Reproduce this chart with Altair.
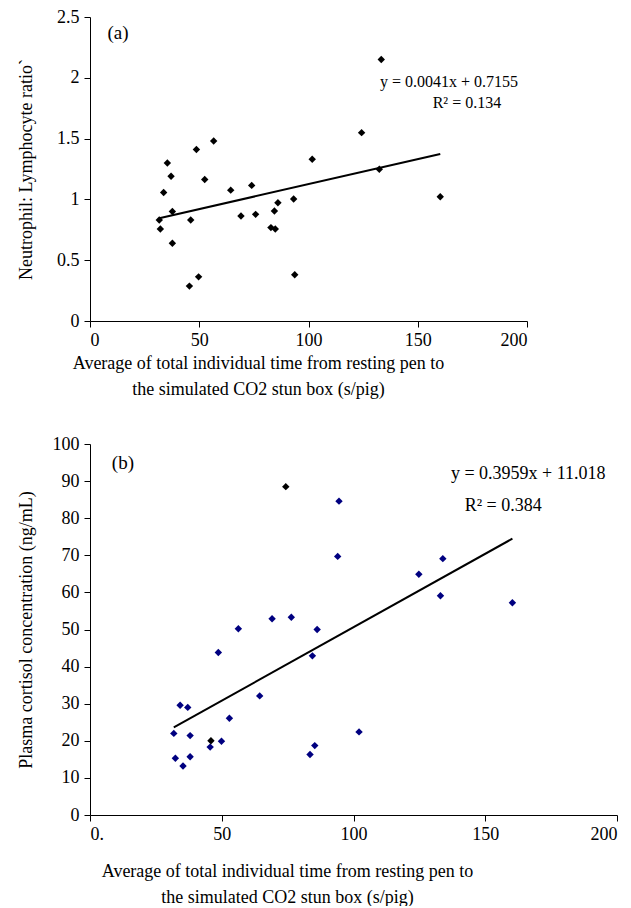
import altair as alt
import pandas as pd

FONT = "Liberation Serif"

# ---------------- Panel (a) ----------------
a_x = [31.7, 32.2, 33.7, 35.4, 37.1, 37.7, 37.7, 46.1, 45.5, 48.7,
       49.7, 52.5, 56.6, 64.4, 69.1, 74.0, 75.8, 82.8, 84.8, 84.4,
       86.0, 93.2, 93.7, 101.7, 124.3, 132.4, 133.3, 160.3]
a_y = [0.83, 0.757, 1.057, 1.30, 1.19, 0.90, 0.64, 0.83, 0.287, 1.41,
       0.363, 1.164, 1.48, 1.076, 0.863, 1.115, 0.877, 0.768, 0.757, 0.904,
       0.973, 1.003, 0.38, 1.33, 1.549, 1.248, 2.15, 1.022]
a_slope, a_intercept = 0.0041, 0.7155
a_ticks = [0, 0.5, 1, 1.5, 2, 2.5]
a_ann_text = ["(a)", "y = 0.0041x + 0.7155", "R²  = 0.134"]
a_ann_x = [12.8, 164.3, 172.5]
a_ann_y = [2.37, 1.967, 1.795]
a_ann_size = [19, 16, 16]

# ---------------- Panel (b) ----------------
b_x = [31.8, 32.4, 34.2, 35.3, 37.1, 38.0, 38.0, 45.6, 45.9, 48.7,
       49.9, 52.9, 56.3, 64.4, 69.1, 74.3, 76.4, 86.2, 84.4, 83.5,
       85.3, 94.5, 94.0, 102.1, 124.8, 133.0, 133.9, 160.3]
b_y = [22.0, 15.3, 29.6, 13.2, 29.0, 21.4, 15.7, 18.3, 20.0, 43.8,
       19.9, 26.1, 50.2, 32.1, 52.9, 88.5, 53.3, 50.0, 42.9, 16.3,
       18.7, 84.6, 69.7, 22.4, 64.9, 59.1, 69.1, 57.2]
b_color = ["#000080"] * 28
b_color[8] = "#000000"
b_color[15] = "#000000"
b_slope, b_intercept = 0.3959, 11.018
b_ticks = [0, 10, 20, 30, 40, 50, 60, 70, 80, 90, 100]
b_ann_text = ["(b)", "y = 0.3959x + 11.018", "R² = 0.384"]
b_ann_x = [12.5, 166.3, 156.8]
b_ann_y = [94.9, 91.9, 83.3]
b_ann_size = [19, 18, 18]

x_ticks = [0, 50, 100, 150, 200]
x_title = ["Average of total individual time from resting pen to",
           "the simulated CO2 stun box (s/pig)"]


def panel(xs, ys, colors, slope, intercept, yticks, ydom, ytitle,
          ann_text, ann_x, ann_y, ann_size, width, height, xlabel_expr,
          title_x, x_title_pad):
    pts = pd.DataFrame({"x": xs, "y": ys, "c": colors})
    lx = [min(xs), max(xs)]
    line = pd.DataFrame({"x": lx, "y": [slope * v + intercept for v in lx]})
    ann = pd.DataFrame({"x": ann_x, "y": ann_y, "t": ann_text, "s": ann_size})

    xsc = alt.Scale(domain=[0, 200], nice=False, zero=True)
    ysc = alt.Scale(domain=ydom, nice=False)
    xax = alt.Axis(values=x_ticks, labelExpr=xlabel_expr, title=x_title,
                   titleX=title_x, titleAlign="center", titleAnchor="middle",
                   titlePadding=x_title_pad, titleLineHeight=26,
                   labelPadding=4, labelOverlap=False, tickCount=5)
    yax = alt.Axis(values=yticks, labelExpr="'' + datum.value", title=ytitle,
                   minExtent=38, maxExtent=38, titlePadding=17,
                   labelPadding=5, labelOverlap=False,
                   tickCount=len(yticks))
    X = alt.X("x:Q", scale=xsc, axis=xax)
    Y = alt.Y("y:Q", scale=ysc, axis=yax)

    p = alt.Chart(pts).mark_point(shape="diamond", filled=True, size=55,
                                  opacity=1).encode(
        x=X, y=Y, color=alt.Color("c:N", scale=None),
    )
    l = alt.Chart(line).mark_line(color="black", strokeWidth=2).encode(
        x=X, y=Y)
    t = alt.Chart(ann).mark_text(font=FONT, color="black").encode(
        x=X, y=Y, text="t:N", size=alt.Size("s:Q", scale=None))
    return alt.layer(l, p, t).properties(width=width, height=height)


top = panel(a_x, a_y, ["#000000"] * 28, a_slope, a_intercept, a_ticks,
            [0, 2.5], "Neutrophil: Lymphocyte ratio`",
            a_ann_text, a_ann_x, a_ann_y, a_ann_size, 437, 304,
            "'' + datum.value", 168, 5)
bottom = panel(b_x, b_y, b_color, b_slope, b_intercept, b_ticks,
               [0, 100], "Plasma cortisol concentration (ng/mL)",
               b_ann_text, b_ann_x, b_ann_y, b_ann_size, 527, 371,
               "datum.value == 0 ? '0.' : '' + datum.value", 197, 19)

chart = alt.vconcat(top, bottom, spacing=37).properties(
    padding={"left": 9, "top": 0, "right": 0, "bottom": 0}
).configure_axis(
    domainColor="black", tickColor="black", labelColor="black",
    titleColor="black", labelFont=FONT, titleFont=FONT, labelFontSize=18,
    titleFontSize=18, titleFontWeight="normal", grid=False, tickSize=6,
    domainWidth=1, tickWidth=1
).configure_view(stroke=None).configure_concat(spacing=37)

chart.save("out.html", embed_options={"renderer": "svg", "actions": False})
